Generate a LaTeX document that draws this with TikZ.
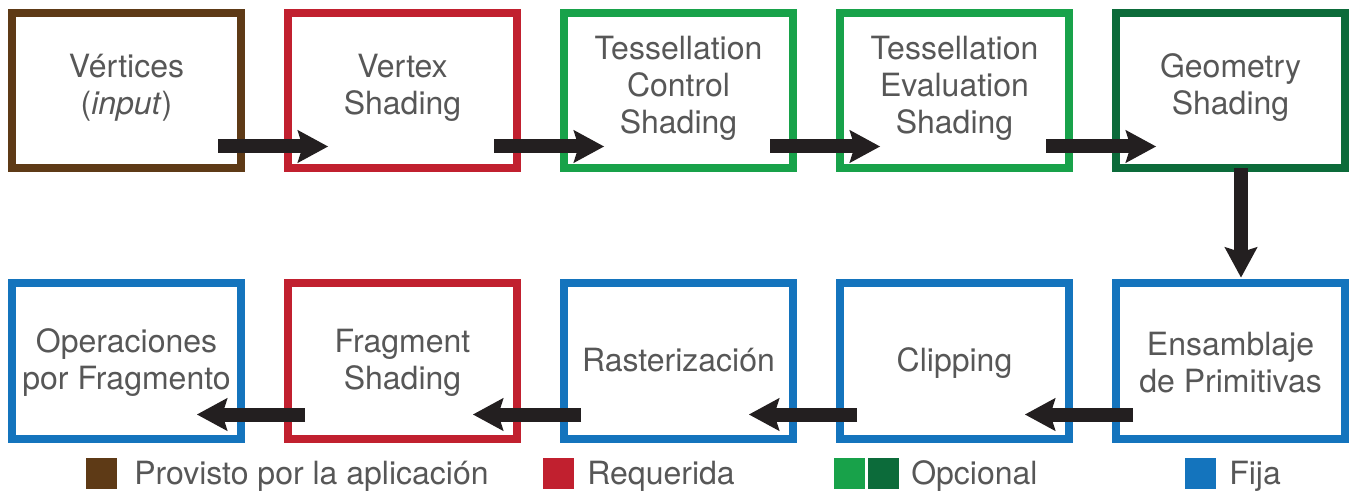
\documentclass[tikz,border=0pt]{standalone}
\usepackage{fontspec}
\setmainfont{TeX Gyre Heros}
\usepackage{tikz}
\usetikzlibrary{arrows.meta,calc}

\definecolor{marron}{HTML}{5E3A16}
\definecolor{rojo}{HTML}{C1202F}
\definecolor{verdeclaro}{HTML}{18A24A}
\definecolor{verdeoscuro}{HTML}{0C6B3A}
\definecolor{azul}{HTML}{1474BD}
\definecolor{negro}{HTML}{231F20}
\definecolor{gristexto}{HTML}{575757}

\tikzset{
  caja/.style={draw=#1, line width=6pt, minimum width=171.75pt, minimum height=116.25pt, inner sep=0pt, outer sep=0pt},
  texto/.style={text=gristexto, font=\fontsize{24}{27.75}\selectfont, align=center, inner sep=0pt},
  unalinea/.style={text height=0.75em, text depth=0.25em},
  flecha/.style={draw=negro, line width=10.5pt, -{Stealth[length=23pt, width=25pt, inset=4pt, line width=0pt]}},
  muestra/.style={fill=#1, draw=none, minimum size=23.25pt, inner sep=0pt},
  leyenda/.style={text=gristexto, font=\fontsize{24}{27.75}\selectfont, inner sep=0pt, anchor=base west}
}

\begin{document}
\begin{tikzpicture}[x=0.75pt,y=0.75pt,yscale=-1,xscale=1]
\useasboundingbox (0,0) rectangle (1351,491);
%Boxes top row
\node[caja=marron] (vert) at (126.5,91) {};
\node[caja=rojo] (vshad) at (402.5,91) {};
\node[caja=verdeclaro] (tcs) at (678.5,91) {};
\node[caja=verdeclaro] (tes) at (954.5,91) {};
\node[caja=verdeoscuro] (geom) at (1230.5,91) {};
%Boxes bottom row
\node[caja=azul] (ensam) at (1230.5,361) {};
\node[caja=azul] (clip) at (954.5,361) {};
\node[caja=azul] (raster) at (678.5,361) {};
\node[caja=rojo] (fshad) at (402.5,361) {};
\node[caja=azul] (opfrag) at (126.5,361) {};
%Texts
\node[texto] (vert-t) at ($(vert)+(0,-3)$) {Vértices\\(\textit{input})};
\node[texto] (vshad-t) at ($(vshad)+(0,-3)$) {Vertex\\Shading};
\node[texto] (tcs-t) at ($(tcs)+(0,-3)$) {Tessellation\\Control\\Shading};
\node[texto] (tes-t) at ($(tes)+(0,-3)$) {Tessellation\\Evaluation\\Shading};
\node[texto] (geom-t) at ($(geom)+(0,-3)$) {Geometry\\Shading};
\node[texto] (ensam-t) at ($(ensam)+(0,2)$) {Ensamblaje\\de Primitivas};
\node[texto,unalinea] (clip-t) at ($(clip)+(0,7)$) {Clipping};
\node[texto,unalinea] (raster-t) at ($(raster)+(0,7)$) {Rasterización};
\node[texto] (fshad-t) at ($(fshad)+(0,2)$) {Fragment\\Shading};
\node[texto] (opfrag-t) at ($(opfrag)+(0,2)$) {Operaciones\\por Fragmento};
%Arrows
\draw[flecha] ($(vert.south east)+(-23,-22)$) -- ($(vshad.south west)+(40,-22)$);
\draw[flecha] ($(vshad.south east)+(-23,-22)$) -- ($(tcs.south west)+(40,-22)$);
\draw[flecha] ($(tcs.south east)+(-23,-22)$) -- ($(tes.south west)+(40,-22)$);
\draw[flecha] ($(tes.south east)+(-23,-22)$) -- ($(geom.south west)+(40,-22)$);
\draw[flecha] ($(geom.south)+(10.5,0)$) -- ($(ensam.north)+(10.5,-6)$);
\draw[flecha] ($(ensam.south west)+(17,-24)$) -- ($(clip.south east)+(-44,-24)$);
\draw[flecha] ($(clip.south west)+(17,-24)$) -- ($(raster.south east)+(-44,-24)$);
\draw[flecha] ($(raster.south west)+(17,-24)$) -- ($(fshad.south east)+(-44,-24)$);
\draw[flecha] ($(fshad.south west)+(17,-24)$) -- ($(opfrag.south east)+(-44,-24)$);
%Legend
\node[muestra=marron] (lprov) at (101.5,473) {};
\node[leyenda] (lprov-t) at (134,484) {Provisto por la aplicación};
\node[muestra=rojo] (lreq) at (558.5,473) {};
\node[leyenda] (lreq-t) at (587,484) {Requerida};
\node[muestra=verdeclaro] (lopc1) at (849.5,473) {};
\node[muestra=verdeoscuro] (lopc2) at (883.5,473) {};
\node[leyenda] (lopc-t) at (911,484) {Opcional};
\node[muestra=azul] (lfija) at (1200.5,473) {};
\node[leyenda] (lfija-t) at (1229,484) {Fija};
\end{tikzpicture}
\end{document}
